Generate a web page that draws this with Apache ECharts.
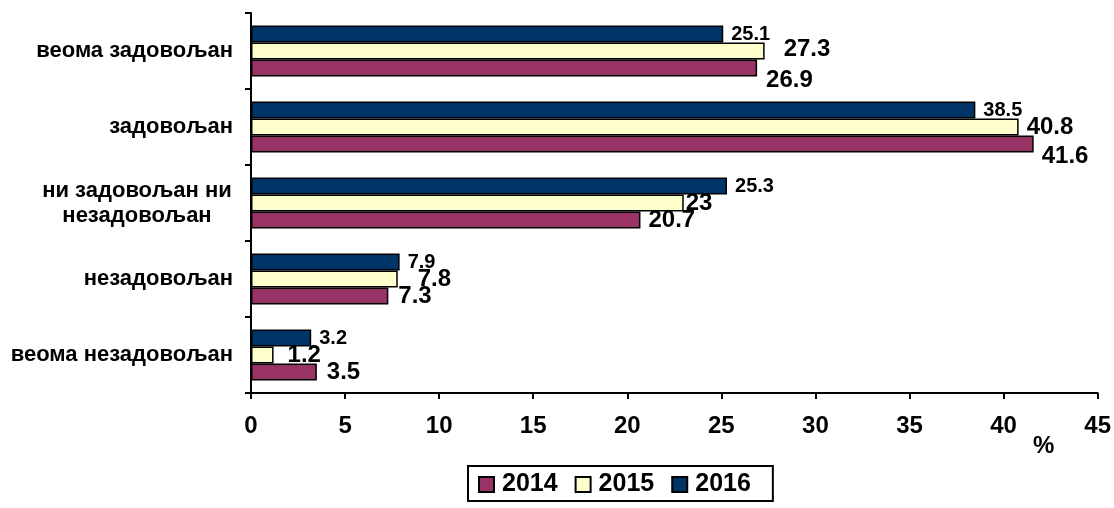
<!DOCTYPE html>
<html>
<head>
<meta charset="utf-8">
<script src="https://cdn.jsdelivr.net/npm/echarts@6/dist/echarts.min.js"></script>
<style>
  html, body { margin: 0; padding: 0; background: #ffffff; }
  #chart { width: 1114px; height: 508px; }
</style>
</head>
<body>
<div id="chart"></div>
<script>
// Satisfaction levels, listed top to bottom
const categories = [
  'веома задовољан',
  'задовољан',
  'ни задовољан ни\nнезадовољан',
  'незадовољан',
  'веома незадовољан'
];

// Shares in percent per year
const values2014 = [26.9, 41.6, 20.7, 7.3, 3.5];
const values2015 = [27.3, 40.8, 23, 7.8, 1.2];
const values2016 = [25.1, 38.5, 25.3, 7.9, 3.2];

const years = ['2014', '2015', '2016'];
const axisTicks = [0, 5, 10, 15, 20, 25, 30, 35, 40, 45];
const unitLabel = '%';

// Per-label nudges [dx, dy] so value labels sit clear of neighbouring bars
const labelShift2014 = [[1, 12], [0, 12], [0, 0], [2, 0], [2, 0]];
const labelShift2015 = [[11, -2], [0, 0], [-6, 0], [12, 0], [6, 0]];

const FONT = '"Liberation Sans", Arial, sans-serif';
const COLORS = { '2014': '#993366', '2015': '#FFFFCC', '2016': '#003366' };

function buildData(values, shifts) {
  return values.map((v, i) => {
    const item = { value: v };
    if (shifts) item.label = { offset: shifts[i] };
    return item;
  });
}

function barSeries(name, values, fontSize, shifts) {
  return {
    name: name,
    type: 'bar',
    barWidth: 17,
    barGap: '0%',
    itemStyle: { color: COLORS[name], borderColor: '#000000', borderWidth: 1.5 },
    label: {
      show: true,
      position: 'right',
      distance: 8,
      color: '#000000',
      fontFamily: FONT,
      fontWeight: 'bold',
      fontSize: fontSize
    },
    data: buildData(values, shifts),
    z: 2
  };
}

const chart = echarts.init(document.getElementById('chart'), null, { renderer: 'canvas' });

chart.setOption({
  animation: false,
  backgroundColor: '#ffffff',
  title: {
    text: unitLabel,
    left: 1033,
    top: 434,
    padding: 0,
    textStyle: { color: '#000000', fontFamily: FONT, fontWeight: 'bold', fontSize: 24 }
  },
  grid: { left: 251, right: 15, top: 13, height: 380, containLabel: false },
  legend: {
    data: years,
    left: 468,
    top: 466,
    orient: 'horizontal',
    padding: [6, 22, 4, 10],
    itemGap: 17,
    itemWidth: 15,
    itemHeight: 15,
    borderColor: '#000000',
    borderWidth: 2,
    icon: 'rect',
    textStyle: {
      color: '#000000',
      fontFamily: FONT,
      fontWeight: 'bold',
      fontSize: 25,
      padding: [0, 0, 0, 3]
    }
  },
  xAxis: {
    type: 'value',
    min: axisTicks[0],
    max: axisTicks[axisTicks.length - 1],
    interval: axisTicks[1] - axisTicks[0],
    axisLine: { show: true, lineStyle: { color: '#000000', width: 2 } },
    axisTick: { show: true, length: 6, lineStyle: { color: '#000000', width: 2 } },
    axisLabel: {
      margin: 21,
      color: '#000000',
      fontFamily: FONT,
      fontWeight: 'bold',
      fontSize: 24
    },
    splitLine: { show: false }
  },
  yAxis: {
    type: 'category',
    inverse: true,
    data: categories,
    axisLine: { show: true, lineStyle: { color: '#000000', width: 2 } },
    axisTick: { show: true, length: 6, lineStyle: { color: '#000000', width: 2 } },
    axisLabel: {
      margin: 18,
      color: '#000000',
      fontFamily: FONT,
      fontWeight: 'bold',
      fontSize: 22,
      formatter: function (v) {
        if (v.indexOf('\n') >= 0) {
          return v.split('\n').map(s => '{c|' + s + '}').join('\n');
        }
        return v;
      },
      rich: {
        c: {
          width: 192,
          align: 'center',
          lineHeight: 25,
          color: '#000000',
          fontFamily: FONT,
          fontWeight: 'bold',
          fontSize: 22
        }
      }
    },
    splitLine: { show: false }
  },
  series: [
    barSeries('2016', values2016, 20, null),
    barSeries('2015', values2015, 24, labelShift2015),
    barSeries('2014', values2014, 24, labelShift2014)
  ]
});
</script>
</body>
</html>
